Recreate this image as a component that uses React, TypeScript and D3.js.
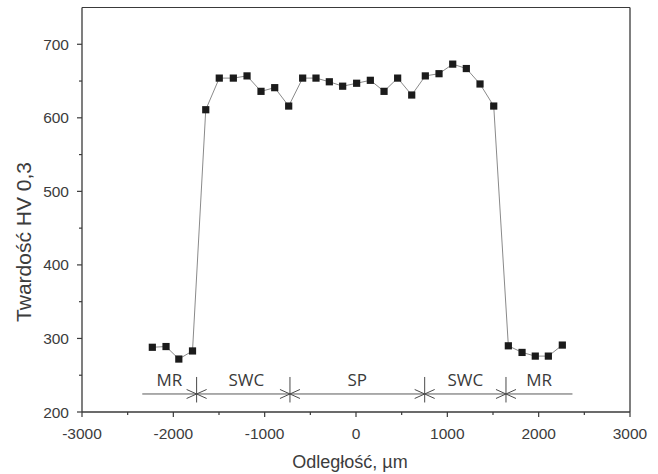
import React from "react";
import * as d3 from "d3";

const distance = [-2230, -2080, -1940, -1790, -1645, -1497, -1343, -1193, -1040, -890, -737, -584, -438, -292, -146, 7, 157, 307, 456, 610, 759, 909, 1059, 1208, 1358, 1508, 1668, 1818, 1963, 2106, 2259];
const hardness = [288, 289, 272, 283, 611, 654, 654, 657, 636, 641, 616, 654, 654, 649, 643, 647, 651, 636, 654, 631, 657, 660, 673, 667, 646, 616, 290, 281, 276, 276, 291];

const xTicks = [-3000, -2000, -1000, 0, 1000, 2000, 3000];
const xMinor = [-2500, -1500, -500, 500, 1500, 2500];
const yTicks = [200, 300, 400, 500, 600, 700];
const yMinor = [250, 350, 450, 550, 650];

const zoneEdges = [-2340, -1745, -723, 752, 1642, 2370];
const zoneLabels = ["MR", "SWC", "SP", "SWC", "MR"];
const zoneLevel = 224.5;

const W = 658, H = 474;
const M = { left: 82, right: 28, top: 7.5, bottom: 62 };

export default function App() {
  const x = d3.scaleLinear().domain([-3000, 3000]).range([M.left, W - M.right]);
  const y = d3.scaleLinear().domain([200, 750]).range([H - M.bottom, M.top]);
  const pts = distance.map((d, i) => [d, hardness[i]] as [number, number]);
  const line = d3.line<[number, number]>().x(d => x(d[0])).y(d => y(d[1]));
  const axisColor = "#3a3a3a";
  const textColor = "#3c3c3c";
  const x0 = x(-3000), x1 = x(3000), y0 = y(200), y1 = y(750);
  const zy = y(zoneLevel);
  return (
    <svg width={W} height={H} style={{ position: "absolute", left: 0, top: 0, background: "#fff" }}>
      <rect x={0} y={0} width={W} height={H} fill="#fff" />
      {/* frame */}
      <line x1={x0} y1={y0} x2={x1} y2={y0} stroke={axisColor} strokeWidth={1.3} />
      <line x1={x0} y1={y0} x2={x0} y2={y1} stroke={axisColor} strokeWidth={1.3} />
      <line x1={x0} y1={y1} x2={x1} y2={y1} stroke={axisColor} strokeWidth={1.1} />
      <line x1={x1} y1={y1} x2={x1} y2={y0} stroke={axisColor} strokeWidth={1.3} />
      {/* x ticks */}
      {xTicks.map(t => (
        <g key={"xt" + t}>
          <line x1={x(t)} x2={x(t)} y1={y0} y2={y0 + 5} stroke={axisColor} strokeWidth={1.2} />
          <text x={x(t)} y={y0 + 27} textAnchor="middle" fontFamily="Liberation Sans, Arial, sans-serif" fontSize={15.5} fill={textColor}>{t}</text>
        </g>
      ))}
      {xMinor.map(t => (
        <line key={"xm" + t} x1={x(t)} x2={x(t)} y1={y0} y2={y0 + 3} stroke={axisColor} strokeWidth={1.2} />
      ))}
      {/* y ticks */}
      {yTicks.map(t => (
        <g key={"yt" + t}>
          <line x1={x0 - 5} x2={x0} y1={y(t)} y2={y(t)} stroke={axisColor} strokeWidth={1.2} />
          <text x={x0 - 13} y={y(t) + 5.5} textAnchor="end" fontFamily="Liberation Sans, Arial, sans-serif" fontSize={15.5} fill={textColor}>{t}</text>
        </g>
      ))}
      {yMinor.map(t => (
        <line key={"ym" + t} x1={x0 - 3} x2={x0} y1={y(t)} y2={y(t)} stroke={axisColor} strokeWidth={1.2} />
      ))}
      {/* axis titles */}
      <text x={350} y={468} textAnchor="middle" fontFamily="Liberation Sans, Arial, sans-serif" fontSize={18} fill={textColor}>Odległość, µm</text>
      <text transform={`translate(31,242) rotate(-90)`} textAnchor="middle" fontFamily="Liberation Sans, Arial, sans-serif" fontSize={21} fill={textColor}>Twardość HV 0,3</text>
      {/* zone annotation */}
      <line x1={x(zoneEdges[0])} x2={x(zoneEdges[zoneEdges.length - 1])} y1={zy} y2={zy} stroke="#5a5a5a" strokeWidth={1} />
      {zoneEdges.slice(1, -1).map((e, i) => {
        const sx = x(e);
        return (
          <g key={"ze" + i} stroke="#4a4a4a" strokeWidth={1} fill="none">
            <line x1={sx} x2={sx} y1={zy - 17} y2={zy + 8.5} />
            <polyline points={`${sx - 10},${zy - 4.5} ${sx},${zy} ${sx - 10},${zy + 4.5}`} />
            <polyline points={`${sx + 10},${zy - 4.5} ${sx},${zy} ${sx + 10},${zy + 4.5}`} />
          </g>
        );
      })}
      {zoneLabels.map((l, i) => (
        <text key={"zl" + i} x={(x(zoneEdges[i]) + x(zoneEdges[i + 1])) / 2 + (i === 1 ? 3 : 0)} y={zy - 8} textAnchor="middle" fontFamily="Open Sans, sans-serif" fontSize={17} fill="#3a3a3a">{l}</text>
      ))}
      {/* data */}
      <path d={line(pts) || ""} fill="none" stroke="#8a8a8a" strokeWidth={1} />
      {pts.map((p, i) => (
        <rect key={"p" + i} x={x(p[0]) - 3.6} y={y(p[1]) - 3.6} width={7.2} height={7.2} fill="#1b1b1b" />
      ))}
    </svg>
  );
}
